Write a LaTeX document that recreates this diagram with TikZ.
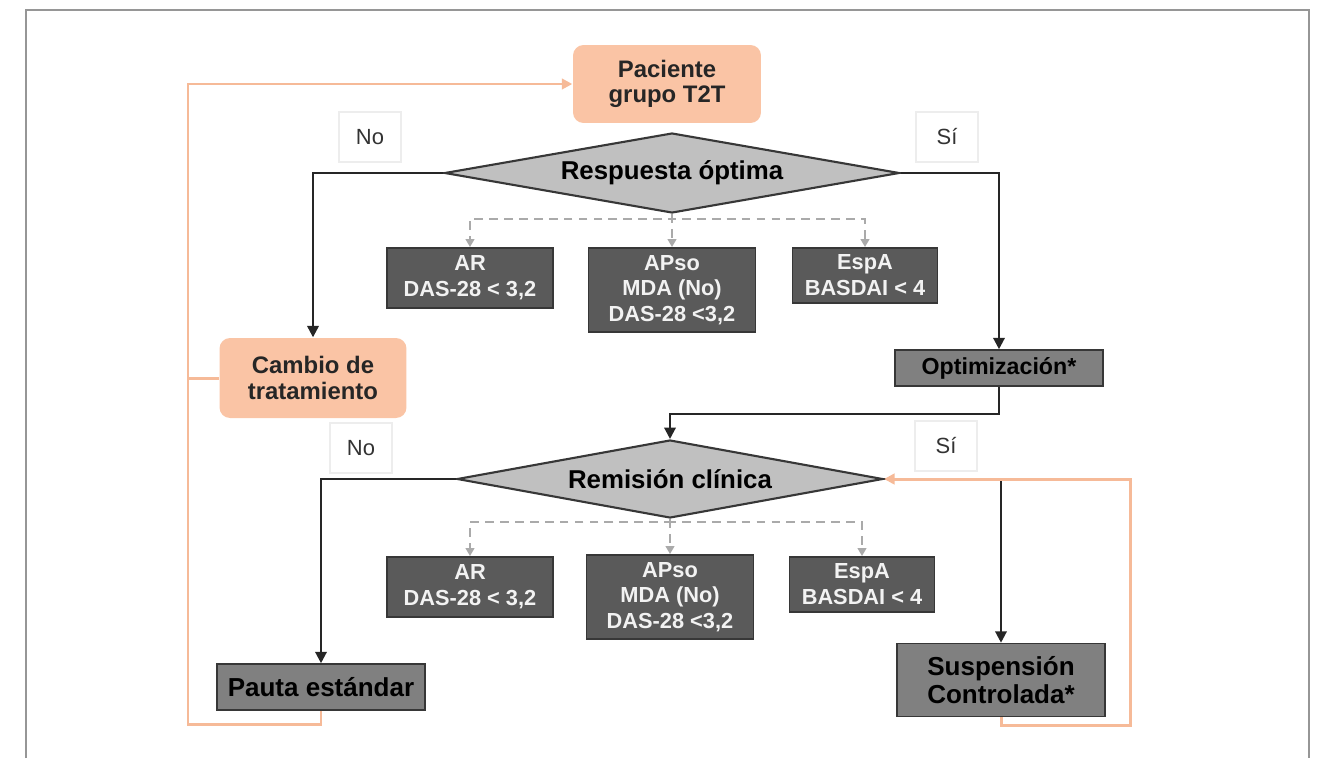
\documentclass[tikz,border=0pt]{standalone}
\usepackage{fontspec}
\setmainfont{Liberation Sans}
\usetikzlibrary{arrows.meta, positioning, shapes.geometric}

\definecolor{peach}{RGB}{250,196,165}
\definecolor{peachline}{RGB}{246,186,152}
\definecolor{decfill}{RGB}{192,192,192}
\definecolor{darkedge}{RGB}{55,55,55}
\definecolor{boxdark}{RGB}{90,90,90}
\definecolor{boxmid}{RGB}{128,128,128}
\definecolor{dashgray}{RGB}{170,170,170}
\definecolor{framegray}{RGB}{150,150,150}

\begin{document}
\begin{tikzpicture}[x=0.02cm, y=-0.02cm, thick,
    start/.style={rectangle, rounded corners=6pt, fill=peach, draw=none, text=black!85, align=center, inner sep=0pt, font=\bfseries\fontsize{13.6}{14.5}\selectfont},
    decision/.style={diamond, aspect=5.7, fill=decfill, draw=darkedge, line width=1.2pt, inner sep=0pt, font=\bfseries\fontsize{14.7}{17}\selectfont},
    crit/.style={rectangle, fill=boxdark, draw=darkedge, line width=0.9pt, text=white!95!black, align=center, inner sep=0pt, font=\bfseries\fontsize{12.4}{14.5}\selectfont},
    action/.style={rectangle, fill=boxmid, draw=darkedge, line width=0.9pt, align=center, inner sep=0pt, font=\bfseries\fontsize{14.8}{16}\selectfont},
    answer/.style={rectangle, draw=black!7, fill=white, text=black!80, minimum width=1.24cm, minimum height=1cm, font=\fontsize{12.5}{14}\selectfont},
    flow/.style={draw=black!85, line width=1.3pt, -{Triangle[length=6.5pt, width=6.5pt]}},
    back/.style={draw=peachline, line width=1.7pt},
    subcase/.style={draw=dashgray, line width=0.9pt, dash pattern=on 5pt off 3.5pt, -{Triangle[length=4.5pt, width=5pt]}},
]
    \useasboundingbox (0,0) rectangle (1322,758);
    \draw[framegray, line width=1.2pt] (26,758) -- (26,10) -- (1309,10) -- (1309,758);

    \node[start, minimum width=3.76cm, minimum height=1.56cm] (paciente) at (667,84) {Paciente\\grupo T2T};

    % first decision
    \node[decision, minimum width=9.1cm, minimum height=1.6cm] (resp) at (672,173) {Respuesta óptima};
    \node[answer] (no1) at (370,137) {No};
    \node[answer] (si1) at (947,137) {Sí};
    \node[crit, minimum width=3.32cm, minimum height=1.2cm, anchor=north] (ar1) at (470,247) {AR\\DAS-28 < 3,2};
    \node[crit, minimum width=3.34cm, minimum height=1.68cm, anchor=north] (apso1) at (672,247) {APso\\MDA (No)\\DAS-28 <3,2};
    \node[crit, minimum width=2.9cm, minimum height=1.1cm, anchor=north] (esp1) at (865,247) {EspA\\BASDAI < 4};

    \node[start, minimum width=3.74cm, minimum height=1.6cm] (cambio) at (313,378) {Cambio de\\tratamiento};
    \node[action, minimum width=4.16cm, minimum height=0.72cm, font=\bfseries\fontsize{13.2}{15}\selectfont] (optim) at (999,368) {Optimización*};

    % second decision
    \node[decision, minimum width=8.52cm, minimum height=1.56cm] (remis) at (670,479) {Remisión clínica};
    \node[answer] (no2) at (361,448) {No};
    \node[answer] (si2) at (946,446) {Sí};
    \node[crit, minimum width=3.32cm, minimum height=1.2cm, anchor=north] (ar2) at (470,556) {AR\\DAS-28 < 3,2};
    \node[crit, minimum width=3.34cm, minimum height=1.68cm, anchor=north] (apso2) at (670,554) {APso\\MDA (No)\\DAS-28 <3,2};
    \node[crit, minimum width=2.9cm, minimum height=1.1cm, anchor=north] (esp2) at (862,556) {EspA\\BASDAI < 4};

    \node[action, minimum width=4.16cm, minimum height=0.92cm] (pauta) at (321,687) {Pauta estándar};
    \node[action, minimum width=4.16cm, minimum height=1.46cm] (susp) at (1001,680) {Suspensión\\Controlada*};

    \draw[subcase] (resp.south) -- ++(0,5) -| (ar1.north);
    \draw[subcase] (resp.south) -- (apso1.north);
    \draw[subcase] (resp.south) -- ++(0,5) -| (esp1.north);
    \draw[subcase] (remis.south) -- ++(0,3) -| (ar2.north);
    \draw[subcase] (remis.south) -- (apso2.north);
    \draw[subcase] (remis.south) -- ++(0,3) -| (esp2.north);

    \draw[flow] (resp.west) -| (cambio.north);
    \draw[flow] (resp.east) -| (optim.north);
    \draw[flow] (optim.south) -- ++(0,27) -| (remis.north);
    \draw[flow] (remis.west) -| (pauta.north);
    \draw[flow] (remis.east) -| (susp.north);

    % way back to the start
    \coordinate (lc) at (188,724);
    \coordinate (rc) at (1130,725);
    \draw[back, -{Triangle[length=6pt, width=6pt]}] (pauta.south) |- (lc) |- (paciente.west);
    \draw[back] (cambio.west) -- (cambio.west -| lc);
    \draw[back, -{Triangle[length=6pt, width=6pt]}] (susp.south) |- (rc) |- (remis.east);
\end{tikzpicture}
\end{document}
